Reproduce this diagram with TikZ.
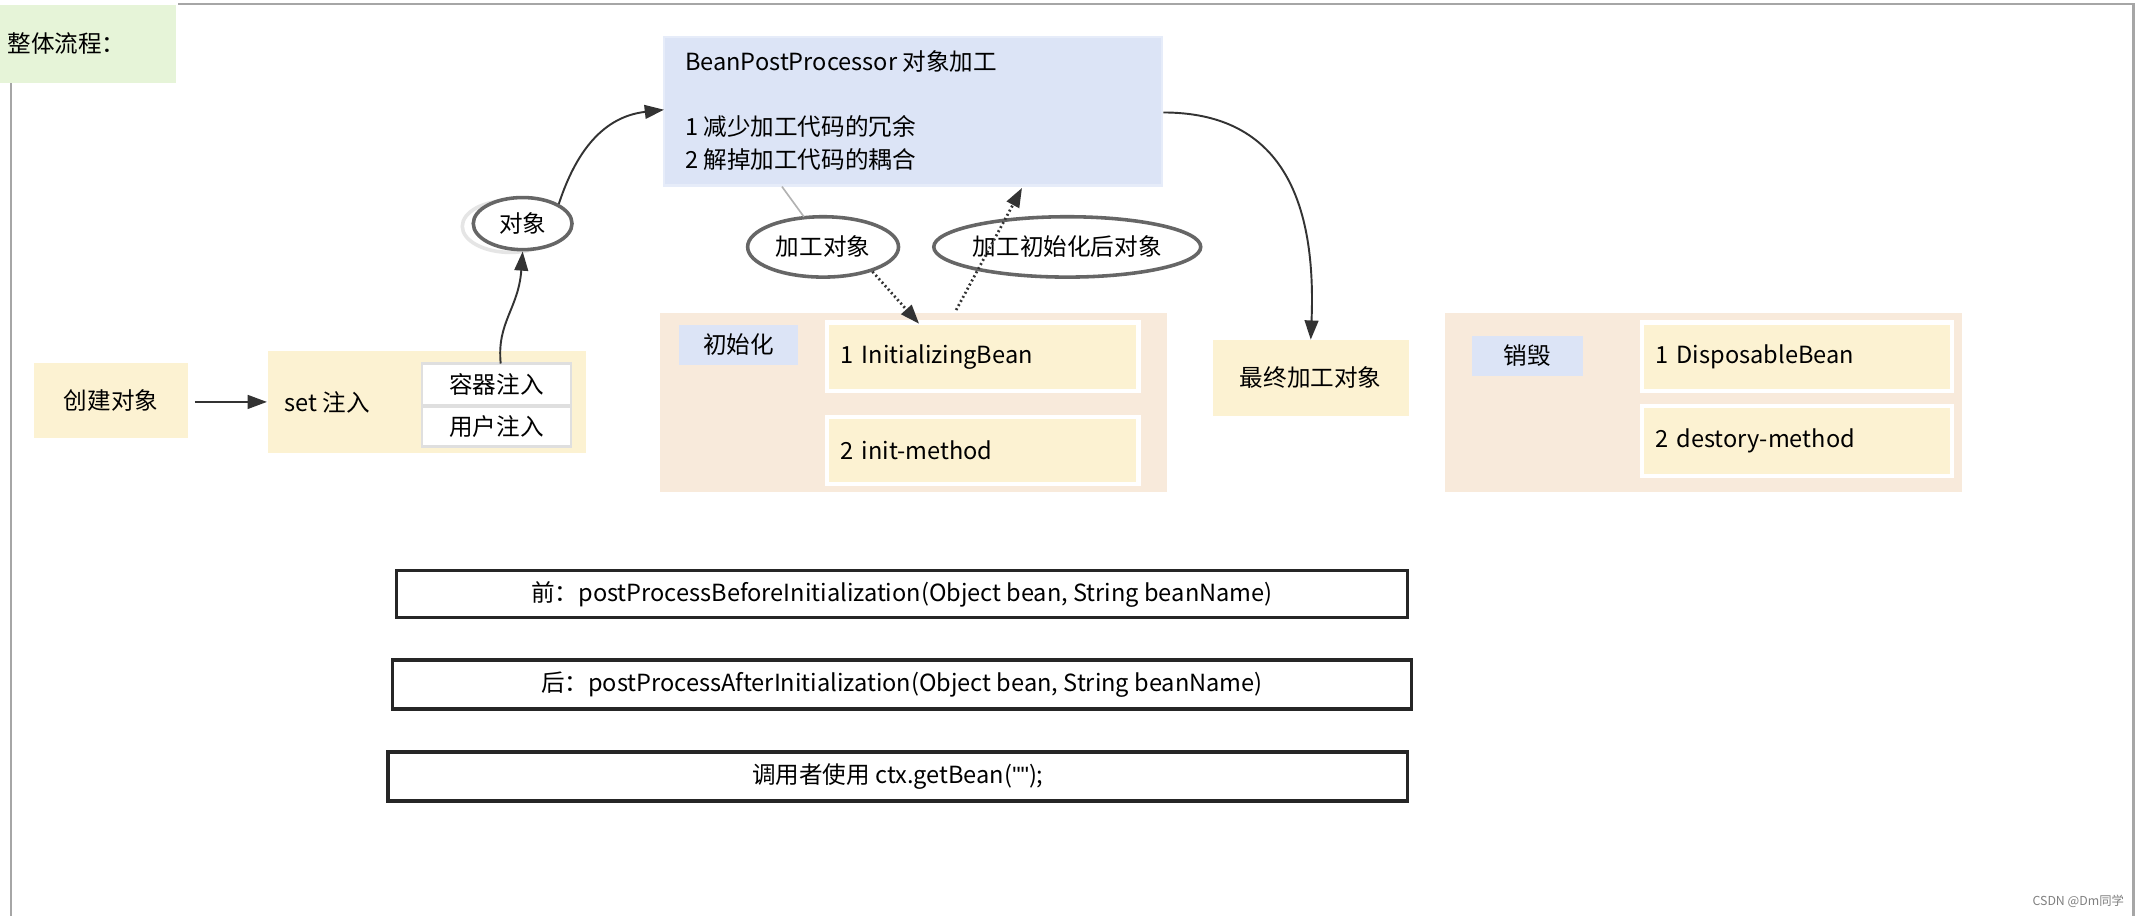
\documentclass[tikz,border=0pt]{standalone}
\usepackage{fontspec}
\setmainfont{Noto Sans CJK SC}
\newfontfamily\qfont{Liberation Sans}
\usetikzlibrary{arrows.meta,shapes.geometric}
\definecolor{yel}{HTML}{FCF2D2}
\definecolor{peach}{HTML}{F8EADB}
\definecolor{blu}{HTML}{DCE4F6}
\definecolor{grn}{HTML}{E6F4D8}
\tikzset{
 txt/.style={font=\fontsize{8.6}{11}\selectfont, inner sep=0pt},
 sz/.style 2 args={minimum width=#1*0.5pt, minimum height=#2*0.5pt},
 bx/.style={txt, anchor=center},
 ybox/.style={bx, fill=yel},
 wbox/.style={bx, fill=white, draw=gray!25, line width=0.8pt},
 ibox/.style={bx, fill=yel, draw=white, line width=1.6pt, text width=#1*0.5pt-10pt, align=left},
 ell/.style={txt, ellipse, draw=gray!80!black, line width=1.3pt, fill=white},
 rbox/.style={bx, draw=black!85, line width=1.3pt},
 arr/.style={-{Triangle[length=7pt,width=5pt]}, line width=0.7pt, black!80}
}
\begin{document}
\begin{tikzpicture}[x=0.5pt,y=-0.5pt]
\useasboundingbox (0,0) rectangle (1560,668);
\fill[white] (0,0) rectangle (1560,668);
\draw[gray!70, line width=1pt] (8,60) -- (8,668);
\draw[gray!70, line width=1pt] (130,3) -- (1555,3) -- (1555,668);
\node[bx, fill=grn, sz={128}{57}] (title) at (64,32) {};
\node[txt, anchor=west] (titletxt) at (5,32) {整体流程：};
% create
\node[ybox, sz={112}{55}] (create) at (81,292) {创建对象};
\node[ybox, sz={232}{74}] (set) at (311,293) {};
\node[txt, anchor=west] (settxt) at (207,293) {set 注入};
\node[wbox, sz={109}{30}] (c1) at (362,280) {容器注入};
\node[wbox, sz={109}{29}] (c2) at (362,311) {用户注入};
\coordinate (ca) at (142,293);
\draw[arr] (ca) -- (set.west);
% object ellipse
\node[ell, draw=gray!20, sz={70}{38}] (shadow) at (372,165) {};
\node[ell, sz={72}{38}] (obj) at (381,163) {对象};
\coordinate (s0) at (365,265);
\draw[arr] (s0) .. controls (362,235) and (378,225) .. (obj.south);
% BPP
\node[bx, fill=blu, draw=blu!70!white, line width=1pt, sz={363}{108}] (bpp) at (665.5,81) {};
\node[txt, anchor=west] (b1) at (499,45) {BeanPostProcessor 对象加工};
\node[txt, anchor=west] (b2) at (499,92) {1 减少加工代码的冗余};
\node[txt, anchor=west] (b3) at (499,116) {2 解掉加工代码的耦合};
\coordinate (bw) at (484,80);
\draw[arr] (obj.north east) .. controls (420,110) and (440,85) .. (bw);
% init group
\node[bx, fill=peach, sz={370}{131}] (initg) at (666,293.5) {};
\node[bx, fill=blu, sz={87}{29}] (initl) at (538.5,251.5) {初始化};
\node[ibox=227, sz={227}{50}] (ib) at (716.5,260) {1 InitializingBean};
\node[ibox=227, sz={227}{49}] (im) at (716.5,328.5) {2 init-method};
% ellipses
\node[ell, sz={110}{44}] (e1) at (600,180) {加工对象};
\node[ell, sz={190}{44}] (e2) at (778,180) {加工初始化后对象};
\draw[gray!60, line width=0.6pt] (570,136) -- (586,158);
\draw[arr, densely dotted, line width=1pt] (636,198) -- (670,236);
\draw[arr, densely dotted, line width=1pt] (697,226) -- (745,137);
% final
\node[ybox, sz={143}{55}] (fin) at (955.5,275.5) {最终加工对象};
\coordinate (be) at (848,82);
\draw[arr] (be) .. controls (930,82) and (960,140) .. (fin.north);
% destroy
\node[bx, fill=peach, sz={377}{131}] (dg) at (1241.5,293.5) {};
\node[bx, fill=blu, sz={81}{29}] (dl) at (1113.5,259.5) {销毁};
\node[ibox=226, sz={226}{50}] (db) at (1310,260) {1 DisposableBean};
\node[ibox=226, sz={226}{51}] (dm) at (1310,321.5) {2 destory-method};
% rects
\node[rbox, sz={737}{34}] (r1) at (657.5,433) {前：postProcessBeforeInitialization(Object bean, String beanName)};
\node[rbox, sz={743}{36}] (r2) at (657.5,499) {后：postProcessAfterInitialization(Object bean, String beanName)};
\node[rbox, sz={743}{36}] (r3) at (654.5,566) {调用者使用 ctx.getBean({\qfont\symbol{34}\symbol{34}});};
\node[txt, font=\fontsize{4.5}{5}\selectfont, text=gray] (wm) at (1515,657) {CSDN @Dm同学};
\end{tikzpicture}
\end{document}
